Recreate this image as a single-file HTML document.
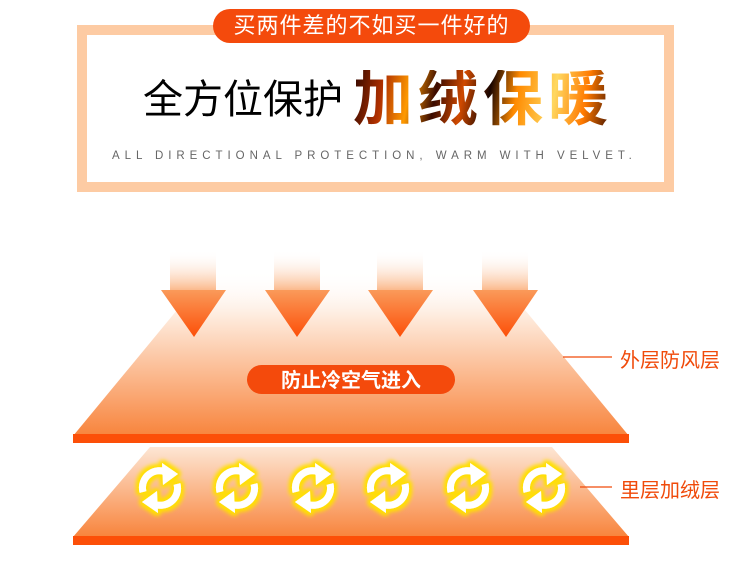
<!DOCTYPE html>
<html><head><meta charset="utf-8"><style>
body{margin:0;width:750px;height:577px;background:#fff;overflow:hidden;position:relative;font-family:"Liberation Sans","Noto Sans CJK SC",sans-serif}
.frame{position:absolute;left:77px;top:25px;width:577px;height:147px;border:10px solid #fdcba3;background:#fff}
.pill{position:absolute;left:213px;top:9px;width:317px;height:34px;border-radius:17px;background:#f44a0c;color:#fff;font-size:22px;line-height:34px;text-align:center;letter-spacing:1px}
.title{position:absolute;left:143px;top:74px;font-size:40px;line-height:52px;color:#000;white-space:nowrap}
.fire{position:absolute;left:353px;top:70px;font-size:60px;line-height:60px;font-weight:bold;letter-spacing:5px;white-space:nowrap;
background:linear-gradient(100deg,#2a0600 0%,#b03000 12%,#ff9a00 22%,#3a0a00 32%,#d04a00 42%,#1a0500 52%,#ff8a00 62%,#ffd860 76%,#ff7a00 88%,#300800 100%);
-webkit-background-clip:text;background-clip:text;color:transparent}
.en{position:absolute;left:112px;top:150px;font-size:11.5px;letter-spacing:4.95px;color:#666;white-space:nowrap}
.lbl{position:absolute;left:620px;font-size:20px;color:#f04a0a;white-space:nowrap}
</style></head><body>
<div class="frame"></div>
<div class="pill">买两件差的不如买一件好的</div>
<div class="title">全方位保护</div>
<div class="fire">加绒保暖</div>
<div class="en">ALL DIRECTIONAL PROTECTION, WARM WITH VELVET.</div>

<svg width="750" height="577" style="position:absolute;left:0;top:0">
<defs>
<linearGradient id="t1" x1="0" y1="0" x2="0" y2="1">
<stop offset="0" stop-color="#fff" stop-opacity="0"/><stop offset="0.3" stop-color="#fee8d8"/><stop offset="1" stop-color="#f8843c"/></linearGradient>
<linearGradient id="t2" x1="0" y1="0" x2="0" y2="1">
<stop offset="0" stop-color="#fde6d4"/><stop offset="1" stop-color="#f8843c"/></linearGradient>
<linearGradient id="sh" x1="0" y1="0" x2="0" y2="1">
<stop offset="0" stop-color="#fff" stop-opacity="0"/><stop offset="1" stop-color="#fbb98c"/></linearGradient>
<linearGradient id="hd" x1="0" y1="0" x2="0" y2="1">
<stop offset="0" stop-color="#fa9a5a"/><stop offset="1" stop-color="#fc4f08"/></linearGradient>
<filter id="glow" x="-50%" y="-50%" width="200%" height="200%">
<feMorphology in="SourceAlpha" operator="dilate" radius="2" result="d"/>
<feGaussianBlur in="d" stdDeviation="2.5" result="b"/>
<feFlood flood-color="#ffe000" result="f"/>
<feComposite in="f" in2="b" operator="in" result="g"/>
<feMerge><feMergeNode in="g"/><feMergeNode in="g"/><feMergeNode in="SourceGraphic"/></feMerge></filter>
<g id="cyc">
<path d="M-17,4 A17,17 0 0 1 8,-15" fill="none" stroke="#fff" stroke-width="7"/>
<polygon points="2,-25 18,-14 3,-3" fill="#fff"/>
<path d="M17,-4 A17,17 0 0 1 -8,15" fill="none" stroke="#fff" stroke-width="7"/>
<polygon points="-2,25 -18,14 -3,3" fill="#fff"/>
</g>
</defs>
<polygon points="73,436 629,436 492,270 210,270" fill="url(#t1)"/>
<rect x="73" y="434" width="556" height="9" fill="#fc4f08"/>
<polygon points="73,537 629,537 552,447 150,447" fill="url(#t2)"/>
<rect x="73" y="536" width="556" height="9" fill="#fc4f08"/>
<g>
<rect x="170" y="250" width="46" height="40" fill="url(#sh)"/><polygon points="161,290 226,290 194,337" fill="url(#hd)"/>
<rect x="274" y="250" width="46" height="40" fill="url(#sh)"/><polygon points="265,290 330,290 297,337" fill="url(#hd)"/>
<rect x="377" y="250" width="46" height="40" fill="url(#sh)"/><polygon points="368,290 433,290 400,337" fill="url(#hd)"/>
<rect x="482" y="250" width="46" height="40" fill="url(#sh)"/><polygon points="473,290 538,290 506,337" fill="url(#hd)"/>
</g>
<rect x="247" y="365" width="208" height="29" rx="14.5" fill="#f44a0c"/>
<text x="351" y="387" font-size="20" font-weight="bold" fill="#fff" text-anchor="middle" font-family="Liberation Sans,Noto Sans CJK SC,sans-serif">防止冷空气进入</text>
<line x1="563" y1="357" x2="612" y2="357" stroke="#f04a0a" stroke-width="1.2"/>
<line x1="580" y1="487" x2="612" y2="487" stroke="#f04a0a" stroke-width="1.2"/>
<g filter="url(#glow)">
<use href="#cyc" x="160" y="488"/><use href="#cyc" x="237" y="488"/><use href="#cyc" x="313" y="488"/>
<use href="#cyc" x="388" y="488"/><use href="#cyc" x="468" y="488"/><use href="#cyc" x="544" y="488"/>
</g>
</svg>
<div class="lbl" style="top:344px">外层防风层</div>
<div class="lbl" style="top:474px">里层加绒层</div>
</body></html>
